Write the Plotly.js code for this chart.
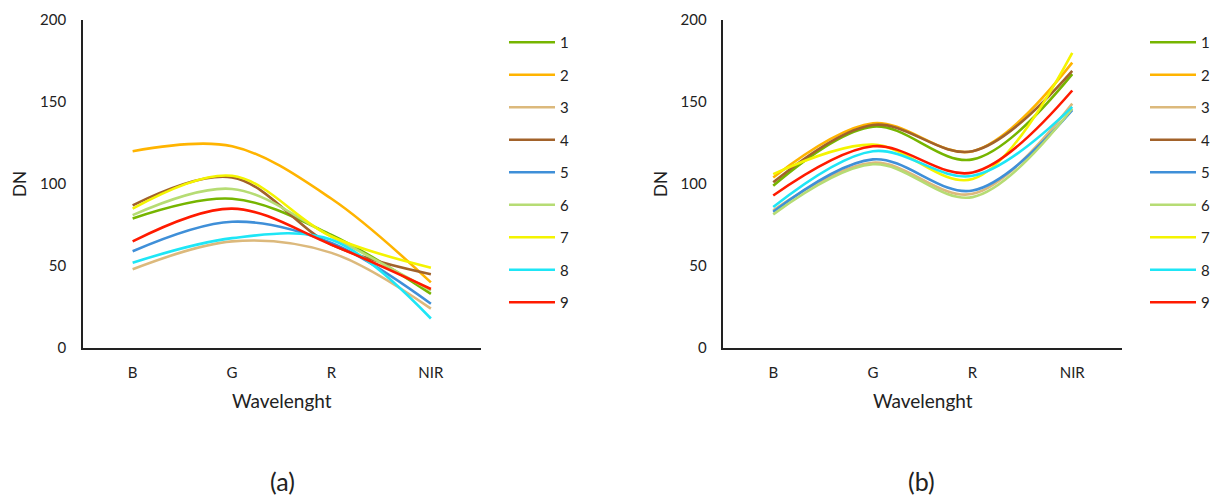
<!DOCTYPE html>
<html>
<head>
<meta charset="utf-8">
<script src="https://cdn.plot.ly/plotly-3.0.1.min.js"></script>
<style>
html,body{margin:0;padding:0;background:#fff;}
#chart{width:1215px;height:497px;}
</style>
</head>
<body>
<div id="chart"></div>
<script>
// Categories and series names
const bands = ['B', 'G', 'R', 'NIR'];
const seriesNames = ['1', '2', '3', '4', '5', '6', '7', '8', '9'];
const seriesColors = ['#76b500', '#ffb400', '#dcb97c', '#a2622a', '#3f8fd8', '#b6dc74', '#f4f400', '#1ee6f6', '#ff1a00'];

// Panel (a) DN values per series (B, G, R, NIR)
const a1 = [79, 91, 69, 33];
const a2 = [120, 123, 91, 40];
const a3 = [48, 65, 58, 24];
const a4 = [87, 104, 63, 45];
const a5 = [59, 77, 64, 27];
const a6 = [81, 97, 68, 35];
const a7 = [85, 105, 68, 49];
const a8 = [52, 67, 66, 18];
const a9 = [65, 85, 63, 36];

// Panel (b) DN values per series (B, G, R, NIR)
const b1 = [99, 135, 115, 167];
const b2 = [104, 137, 120, 174];
const b3 = [84, 113, 94, 149];
const b4 = [101, 136, 120, 169];
const b5 = [83, 115, 96, 145];
const b6 = [81.5, 112, 92, 146];
const b7 = [106, 124, 103, 180];
const b8 = [86, 120, 105, 147];
const b9 = [93, 123, 107, 157];

const panelA = [a1, a2, a3, a4, a5, a6, a7, a8, a9];
const panelB = [b1, b2, b3, b4, b5, b6, b7, b8, b9];

const FONT = 'Lato, "Open Sans", sans-serif';
const traces = [];
panelA.forEach((vals, i) => {
  traces.push({
    x: bands, y: vals, type: 'scatter', mode: 'lines',
    name: seriesNames[i], legendgroup: 'a' + i, legend: 'legend',
    line: {color: seriesColors[i], width: 2.6, shape: 'spline', smoothing: 1},
    xaxis: 'x', yaxis: 'y', hoverinfo: 'x+y+name'
  });
});
panelB.forEach((vals, i) => {
  traces.push({
    x: bands, y: vals, type: 'scatter', mode: 'lines',
    name: seriesNames[i], legendgroup: 'b' + i, legend: 'legend2',
    line: {color: seriesColors[i], width: 2.6, shape: 'spline', smoothing: 1},
    xaxis: 'x2', yaxis: 'y2', hoverinfo: 'x+y+name'
  });
});

const W = 1215, H = 497;
const px = v => v / W;
const py = v => 1 - v / H;

function xax(domain) {
  return {
    domain: domain, type: 'category', categoryarray: bands, range: [-0.5, 3.5],
    showgrid: false, zeroline: false, showline: true, linecolor: '#222', linewidth: 1.5,
    ticks: 'outside', ticklen: 10, tickcolor: 'rgba(0,0,0,0)',
    tickfont: {family: FONT, size: 15, color: '#222'},
    title: {text: 'Wavelenght', font: {family: FONT, size: 19, color: '#222'}, standoff: 15},
    fixedrange: true
  };
}
function yax(anchor) {
  return {
    domain: [py(348), py(20)], anchor: anchor, range: [0, 200], tickvals: [0, 50, 100, 150, 200],
    showgrid: false, zeroline: false, showline: true, linecolor: '#222', linewidth: 1.5,
    ticks: 'outside', ticklen: 12, tickcolor: 'rgba(0,0,0,0)',
    tickfont: {family: FONT, size: 15, color: '#222'},
    title: {text: 'DN', font: {family: FONT, size: 17, color: '#222'}, standoff: 9},
    fixedrange: true
  };
}

const legendBase = {
  orientation: 'v', bgcolor: 'rgba(0,0,0,0)', borderwidth: 0,
  font: {family: FONT, size: 15, color: '#222'},
  tracegroupgap: 10, itemwidth: 46, itemclick: false, itemdoubleclick: false,
  xanchor: 'left', yanchor: 'top'
};

const layout = {
  width: W, height: H,
  margin: {l: 0, r: 0, t: 0, b: 0},
  paper_bgcolor: '#fff', plot_bgcolor: '#fff',
  showlegend: true,
  xaxis: Object.assign(xax([px(83), px(481)]), {anchor: 'y'}),
  yaxis: yax('x'),
  xaxis2: Object.assign(xax([px(724), px(1123)]), {anchor: 'y2'}),
  yaxis2: yax('x2'),
  legend: Object.assign({}, legendBase, {x: px(504), y: py(26)}),
  legend2: Object.assign({}, legendBase, {x: px(1146), y: py(26)}),
  annotations: [
    {text: '(a)', xref: 'paper', yref: 'paper', x: px(283), y: py(481), showarrow: false,
     font: {family: FONT, size: 25, color: '#222'}, xanchor: 'center', yanchor: 'middle'},
    {text: '(b)', xref: 'paper', yref: 'paper', x: px(922), y: py(481), showarrow: false,
     font: {family: FONT, size: 25, color: '#222'}, xanchor: 'center', yanchor: 'middle'}
  ]
};

Plotly.newPlot('chart', traces, layout, {displayModeBar: false, responsive: false});
</script>
</body>
</html>
